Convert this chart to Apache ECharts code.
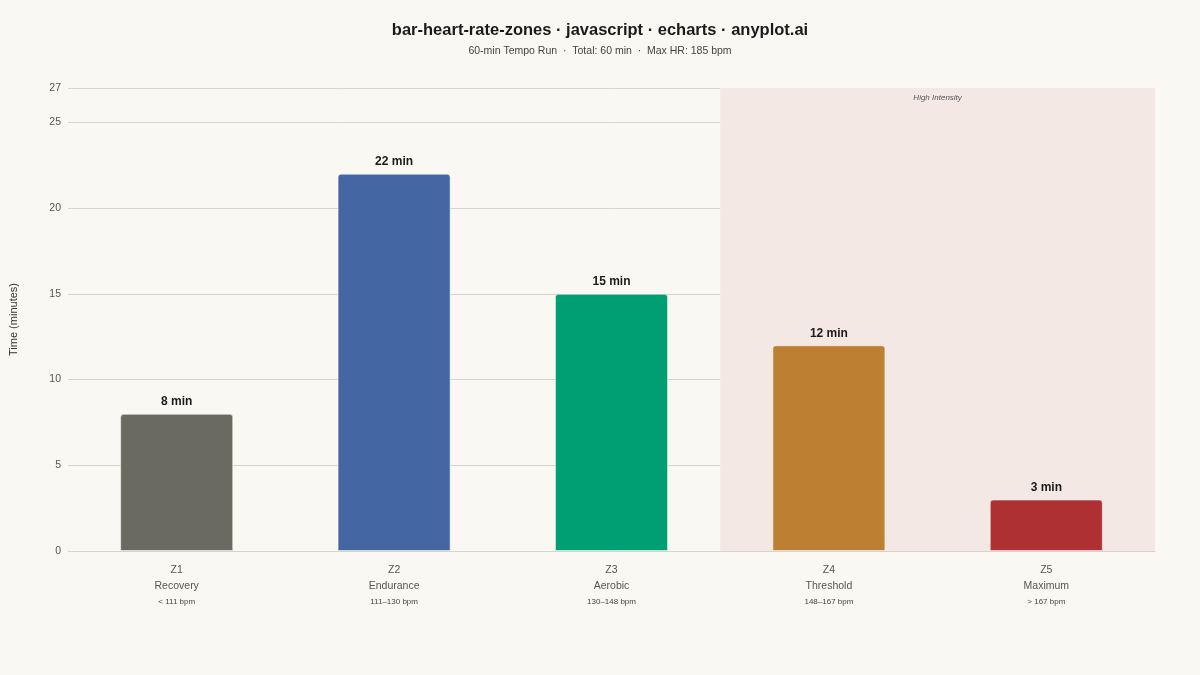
<!DOCTYPE html>
<html>
<head>
<meta charset="utf-8">
<script src="https://cdn.jsdelivr.net/npm/echarts@6/dist/echarts.min.js"></script>
<style>
  html,body{margin:0;padding:0;background:#faf8f2;}
  #chart{width:1200px;height:675px;}
</style>
</head>
<body>
<div id="chart"></div>
<script>
// zone data
const zones = ["Z1", "Z2", "Z3", "Z4", "Z5"];
const zoneNames = ["Recovery", "Endurance", "Aerobic", "Threshold", "Maximum"];
const zoneRanges = ["< 111 bpm", "111\u2013130 bpm", "130\u2013148 bpm", "148\u2013167 bpm", "> 167 bpm"];
const minutes = [8, 22, 15, 12, 3];
const zoneColors = ["#6b6a60", "#4466a3", "#009e73", "#bd8033", "#ae3033"];

let chart = echarts.init(document.getElementById("chart"));

chart.setOption({
    backgroundColor: "#faf8f2",
    textStyle: { fontFamily: "Liberation Sans, Arial, sans-serif" },
    title: {
        text: "bar-heart-rate-zones \u00b7 javascript \u00b7 echarts \u00b7 anyplot.ai",
        subtext: "60-min Tempo Run  \u00b7  Total: 60 min  \u00b7  Max HR: 185 bpm",
        left: "center",
        top: 17,
        itemGap: 7,
        textStyle: { fontSize: 16.5, fontWeight: "bold", color: "#1a1a1a" },
        subtextStyle: { fontSize: 10.5, color: "#444" }
    },
    grid: { left: 68, right: 45, top: 88, bottom: 124, outerBoundsMode: "none" },
    xAxis: {
        type: "category",
        data: zones,
        axisTick: { show: false },
        axisLine: { lineStyle: { color: "#d8d4cc" } },
        axisLabel: {
            margin: 11,
            formatter: function (v, i) {
                return "{z|" + v + "}\n{n|" + zoneNames[i] + "}\n{r|" + zoneRanges[i] + "}";
            },
            rich: {
                z: { fontSize: 10.5, color: "#555", lineHeight: 16 },
                n: { fontSize: 10.5, color: "#555", lineHeight: 16 },
                r: { fontSize: 8, color: "#444", lineHeight: 16 }
            }
        }
    },
    yAxis: {
        type: "value",
        min: 0,
        max: 27,
        interval: 5,
        name: "Time (minutes)",
        nameLocation: "middle",
        nameGap: 49,
        nameTextStyle: { fontSize: 11, color: "#333" },
        axisLabel: { fontSize: 10.5, color: "#555", margin: 7 },
        axisLine: { show: false },
        axisTick: { show: false },
        splitLine: { lineStyle: { color: "#d9d5cd" } }
    },
    series: [{
        type: "bar",
        barWidth: "52%",
        data: minutes.map(function (v, i) {
            return { value: v, itemStyle: { color: zoneColors[i] } };
        }),
        itemStyle: { borderRadius: [3, 3, 0, 0], borderColor: "rgba(255,255,255,0.5)", borderWidth: 1 },
        label: {
            show: true,
            position: "top",
            distance: 6,
            formatter: "{c} min",
            fontSize: 12,
            fontWeight: "bold",
            color: "#1a1a1a"
        },
        markArea: {
            silent: true,
            itemStyle: { color: "#f4e8e4" },
            label: {
                show: true,
                position: "insideTop",
                distance: 6,
                fontSize: 8,
                fontStyle: "italic",
                color: "#555"
            },
            data: [[{ name: "High Intensity", xAxis: "Z4" }, { xAxis: "Z5" }]]
        }
    }]
});
</script>
</body>
</html>
